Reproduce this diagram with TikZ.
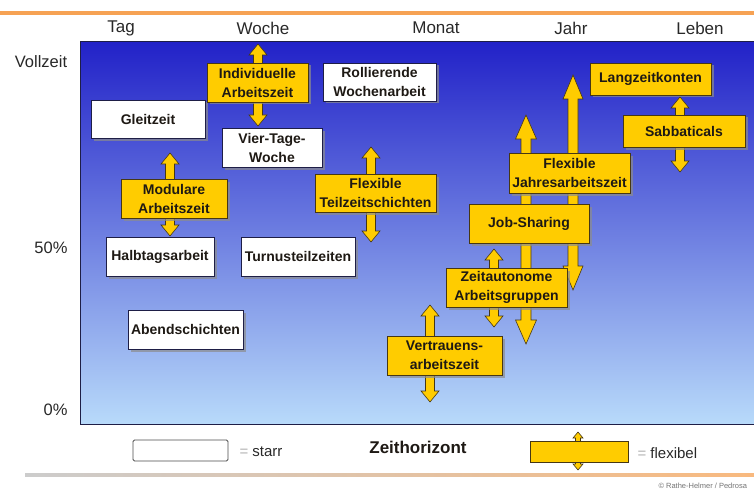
\documentclass[tikz,border=0pt]{standalone}
\usepackage{fontspec}
\setmainfont{Liberation Sans}
\usepackage{tikz}
\usetikzlibrary{calc,shadows}
\definecolor{gelb}{RGB}{255,204,0}
\definecolor{rand}{RGB}{70,55,20}
\definecolor{dunkelblau}{RGB}{34,34,200}
\definecolor{mittelblau}{RGB}{110,148,234}
\definecolor{hellblau}{RGB}{184,218,250}
\definecolor{orangelinie}{RGB}{246,162,84}
\definecolor{schrift}{RGB}{30,25,20}
\definecolor{achse}{RGB}{40,40,40}
\definecolor{navyrand}{RGB}{30,30,70}
\pgfkeys{
  /pfeil/.cd,
  top/.initial={A},
  bottom/.initial={B},
  shaft/.initial=4.5pt,
  head/.initial=9pt,
  tip/.initial=11pt,
}
\makeatletter
\newcommand{\pfeil}[1][]{
  {
    \pgfkeys{
      /pfeil/.cd,
      #1,
      /pfeil/top/.get=\pfeil@top,
      /pfeil/bottom/.get=\pfeil@bottom,
      /pfeil/shaft/.get=\pfeil@shaft,
      /pfeil/head/.get=\pfeil@head,
      /pfeil/tip/.get=\pfeil@tip
    }
    \draw[flexpfeil] let \p1=(\pfeil@top), \p2=(\pfeil@bottom) in
      (\x1,\y1) -- (\x1+\pfeil@head,\y1-\pfeil@tip) -- (\x1+\pfeil@shaft,\y1-\pfeil@tip)
      -- (\x1+\pfeil@shaft,\y2+\pfeil@tip) -- (\x1+\pfeil@head,\y2+\pfeil@tip) -- (\x1,\y2)
      -- (\x1-\pfeil@head,\y2+\pfeil@tip) -- (\x1-\pfeil@shaft,\y2+\pfeil@tip)
      -- (\x1-\pfeil@shaft,\y1-\pfeil@tip) -- (\x1-\pfeil@head,\y1-\pfeil@tip) -- cycle;
  }
}
\makeatother
\tikzset{
  flexpfeil/.style={fill=gelb,draw=rand,line width=0.6pt,line join=miter},
  kasten/.style={font=\fontsize{14}{19}\selectfont\bfseries,text=schrift,align=center,inner sep=0pt,line width=0.8pt,
    drop shadow={shadow xshift=2.5pt,shadow yshift=-2.5pt,fill=black!45,opacity=0.7}},
  starr/.style={kasten,fill=white,draw=navyrand},
  flex/.style={kasten,fill=gelb,draw=rand},
  groesse/.style 2 args={minimum width=#1pt,minimum height=#2pt},
  zeitachse/.style={font=\fontsize{17}{17}\selectfont,text=achse},
  legende/.style={font=\fontsize{15}{15}\selectfont,text=achse}
}
\begin{document}
\begin{tikzpicture}[x=1pt,y=-1pt]
  \useasboundingbox (0,0) rectangle (754,492);
  \draw[orangelinie,line width=4pt] (0,13) -- (754,13);
  \shade[left color=black!20,right color=orangelinie!75] (25,473) rectangle (754,476);

  \shade[top color=dunkelblau,middle color=mittelblau,bottom color=hellblau] (80,42) rectangle (754,424);
  \draw[line width=1pt,navyrand] (754,42) -- (80,42) -- (80,424) -- (754,424);

  \node[zeitachse] (tag) at (121,28) {Tag};
  \node[zeitachse] (woche) at (263,28) {Woche};
  \node[zeitachse] (monat) at (436,28) {Monat};
  \node[zeitachse] (jahr) at (571,28) {Jahr};
  \node[zeitachse] (leben) at (700,28) {Leben};
  \node[zeitachse,font=\fontsize{16.5}{16.5}\selectfont] (voll) at (41,62) {Vollzeit};
  \node[zeitachse,font=\fontsize{16.5}{16.5}\selectfont,anchor=east] (halb) at (71,248) {50\%};
  \node[zeitachse,font=\fontsize{16.5}{16.5}\selectfont,anchor=east] (null) at (71,410) {0\%};

  \coordinate (I1) at (258,44);  \coordinate (I2) at (258,126);
  \coordinate (M1) at (170,153); \coordinate (M2) at (170,236);
  \coordinate (T1) at (371,147); \coordinate (T2) at (371,242);
  \coordinate (B1) at (526,115); \coordinate (B2) at (526,344);
  \coordinate (A1) at (573,75);  \coordinate (A2) at (573,290);
  \coordinate (Z1) at (494,249); \coordinate (Z2) at (494,327);
  \coordinate (V1) at (430,305); \coordinate (V2) at (430,402);
  \coordinate (S1) at (680,97);  \coordinate (S2) at (680,172);
  \coordinate (L1) at (578,432); \coordinate (L2) at (578,470);

  \pfeil[/pfeil/top=I1,/pfeil/bottom=I2]
  \pfeil[/pfeil/top=M1,/pfeil/bottom=M2]
  \pfeil[/pfeil/top=T1,/pfeil/bottom=T2]
  \pfeil[/pfeil/top=B1,/pfeil/bottom=B2,/pfeil/shaft=5pt,/pfeil/head=10.5pt,/pfeil/tip=24pt]
  \pfeil[/pfeil/top=A1,/pfeil/bottom=A2,/pfeil/shaft=5pt,/pfeil/head=10pt,/pfeil/tip=24pt]
  \pfeil[/pfeil/top=Z1,/pfeil/bottom=Z2]
  \pfeil[/pfeil/top=V1,/pfeil/bottom=V2]
  \pfeil[/pfeil/top=S1,/pfeil/bottom=S2]
  \pfeil[/pfeil/top=L1,/pfeil/bottom=L2,/pfeil/shaft=2.5pt,/pfeil/head=5pt,/pfeil/tip=6pt]

  \node[starr,groesse={114}{38}] (gleit) at (148,119) {Gleitzeit};
  \node[starr,groesse={113}{38}] (rollier) at (379.5,82) {Rollierende\\Wochenarbeit};
  \node[starr,groesse={100}{39}] (vier) at (272,147.5) {Vier-Tage-\\Woche};
  \node[starr,groesse={108}{39}] (halbtag) at (160,256.5) {Halbtagsarbeit};
  \node[starr,groesse={114}{39}] (turnus) at (298,256.5) {Turnusteilzeiten};
  \node[starr,groesse={115}{39}] (abend) at (185.5,329.5) {Abendschichten};

  \node[flex,groesse={101}{39}] (indiv) at (257.5,82.5) {Individuelle\\Arbeitszeit};
  \node[flex,groesse={106}{39}] (modular) at (174,198.5) {Modulare\\Arbeitszeit};
  \node[flex,groesse={121}{38}] (teilzeit) at (375.5,193) {Flexible\\Teilzeitschichten};
  \node[flex,groesse={121}{40}] (jahres) at (569.5,173) {Flexible\\Jahresarbeitszeit};
  \node[flex,groesse={120}{39}] (job) at (529,223.5) {Job-Sharing};
  \node[flex,groesse={121}{32}] (langzeit) at (650.5,79) {Langzeitkonten};
  \node[flex,groesse={122}{32}] (sabbat) at (684,131) {Sabbaticals};
  \node[flex,groesse={121}{39}] (autonom) at (506.5,287.5) {Zeitautonome\\Arbeitsgruppen};
  \node[flex,groesse={115}{39}] (vertrauen) at (444.5,355.5) {Vertrauens-\\arbeitszeit};

  \node[draw=black!70,fill=white,rounded corners=1.5pt,line width=0.8pt,groesse={95}{21}] (starrbox) at (180.5,450.5) {};
  \node[legende,anchor=west] (starrtext) at (236,452) {\textcolor{black!30}{=} starr};
  \node[font=\fontsize{17}{17}\selectfont\bfseries,text=schrift] (horizont) at (418,447) {Zeithorizont};
  \node[draw=rand,fill=gelb,line width=0.8pt,groesse={98}{21}] (flexbox) at (579,451.5) {};
  \node[legende,anchor=west] (flextext) at (634,453) {\textcolor{black!30}{=} flexibel};
  \node[font=\fontsize{7.5}{7.5}\selectfont,text=black!55,anchor=west] (quelle) at (655,486) {\textcopyright{} Rathe-Helmer / Pedrosa};
\end{tikzpicture}
\end{document}
